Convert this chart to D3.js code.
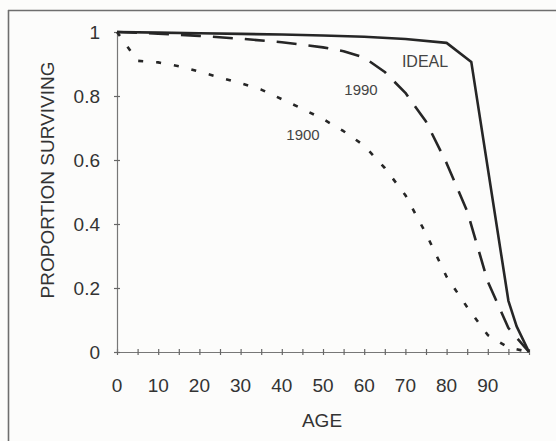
<!DOCTYPE html>
<html><head><meta charset="utf-8">
<script src="https://cdn.jsdelivr.net/npm/d3@7"></script>
<style>
html,body{margin:0;padding:0;background:#fcfcfb;}
svg{display:block;}
text{font-family:"Liberation Sans",Arial,sans-serif;}
</style></head>
<body>
<svg id="c" width="556" height="441"></svg>
<script>
// Data (age in years, proportion surviving)
const idealAge   = [0, 10, 20, 30, 40, 50, 60, 70, 80, 86, 95, 97, 100];
const idealVal   = [1, 0.998, 0.996, 0.994, 0.992, 0.989, 0.985, 0.978, 0.966, 0.906, 0.16, 0.08, 0];
const y1990Age   = [0, 10, 20, 30, 40, 50, 55, 60, 65, 70, 75, 80, 85, 90, 95, 100];
const y1990Val   = [1, 0.995, 0.988, 0.979, 0.968, 0.952, 0.94, 0.92, 0.875, 0.81, 0.72, 0.59, 0.44, 0.22, 0.075, 0];
const y1900Age   = [0, 5, 10, 15, 20, 25, 30, 35, 40, 45, 50, 55, 60, 65, 70, 75, 80, 85, 90, 95, 100];
const y1900Val   = [1, 0.91, 0.905, 0.893, 0.876, 0.858, 0.84, 0.82, 0.79, 0.76, 0.728, 0.69, 0.645, 0.575, 0.49, 0.37, 0.235, 0.14, 0.053, 0.014, 0];
const xTickLabels = [0, 10, 20, 30, 40, 50, 60, 70, 80, 90];
const xMinorTicks = d3.range(0, 101, 5);
const yTickLabels = [0, 0.2, 0.4, 0.6, 0.8, 1];
const seriesNames = ["IDEAL", "1990", "1900"];

const svg = d3.select("#c");
const x = d3.scaleLinear().domain([0, 100]).range([117, 529]);
const y = d3.scaleLinear().domain([0, 1]).range([352, 32]);

// frame (top and left edges visible in scan)
svg.append("line").attr("x1", 8).attr("x2", 556).attr("y1", 10.5).attr("y2", 10.5)
  .attr("stroke", "#6e6e6e").attr("stroke-width", 1.6);
svg.append("line").attr("x1", 8.5).attr("x2", 8.5).attr("y1", 10).attr("y2", 441)
  .attr("stroke", "#6e6e6e").attr("stroke-width", 1.6);

// x axis: minor crossing ticks
const gx = svg.append("g").attr("transform", `translate(0,${y(0)})`)
  .call(d3.axisBottom(x).tickValues(xMinorTicks).tickFormat("").tickSizeOuter(0).tickSizeInner(3));
gx.select(".domain").attr("stroke", "#777").attr("stroke-width", 1.2);
gx.selectAll(".tick line").attr("y1", -3).attr("y2", 3).attr("stroke", "#666").attr("stroke-width", 1.2);

// x labels
svg.append("g").selectAll("text").data(xTickLabels).join("text")
  .attr("x", d => x(d)).attr("y", 392).attr("text-anchor", "middle")
  .attr("font-size", 19).attr("fill", "#333").text(d => d);

// y axis
const gy = svg.append("g").attr("transform", `translate(${x(0)},0)`)
  .call(d3.axisLeft(y).tickValues(yTickLabels).tickFormat("").tickSizeOuter(0).tickSizeInner(3));
gy.select(".domain").attr("stroke", "#777").attr("stroke-width", 1.2);
gy.selectAll(".tick line").attr("x1", -3).attr("x2", 3).attr("stroke", "#666").attr("stroke-width", 1.2);

svg.append("g").selectAll("text").data(yTickLabels).join("text")
  .attr("x", 100).attr("y", d => y(d) + 7).attr("text-anchor", "end")
  .attr("font-size", 19).attr("fill", "#333").text(d => d);

// axis titles
svg.append("text").attr("x", 322).attr("y", 427).attr("text-anchor", "middle")
  .attr("font-size", 19).attr("fill", "#333").text("AGE");
svg.append("text").attr("transform", "translate(54,180) rotate(-90)").attr("text-anchor", "middle")
  .attr("font-size", 19).attr("fill", "#333").text("PROPORTION SURVIVING");

// curves
const line = d3.line().x(d => x(d[0])).y(d => y(d[1]));
const series = [
  {age: idealAge, val: idealVal, dash: null},
  {age: y1990Age, val: y1990Val, dash: "20,12"},
  {age: y1900Age, val: y1900Val, dash: "5,13"}
];
series.forEach(s => {
  const pts = s.age.map((a, i) => [a, s.val[i]]);
  const p = svg.append("path").datum(pts).attr("d", line)
    .attr("fill", "none").attr("stroke", "#262626").attr("stroke-width", 2.6)
    .attr("stroke-linejoin", "round");
  if (s.dash) p.attr("stroke-dasharray", s.dash);
});

// curve labels
const labelPos = [[425, 67, 16], [361, 95, 15], [303, 140, 15]];
svg.append("g").selectAll("text").data(seriesNames).join("text")
  .attr("x", (d, i) => labelPos[i][0]).attr("y", (d, i) => labelPos[i][1])
  .attr("font-size", (d, i) => labelPos[i][2])
  .attr("text-anchor", "middle").attr("fill", "#444").text(d => d);
</script>
</body></html>
